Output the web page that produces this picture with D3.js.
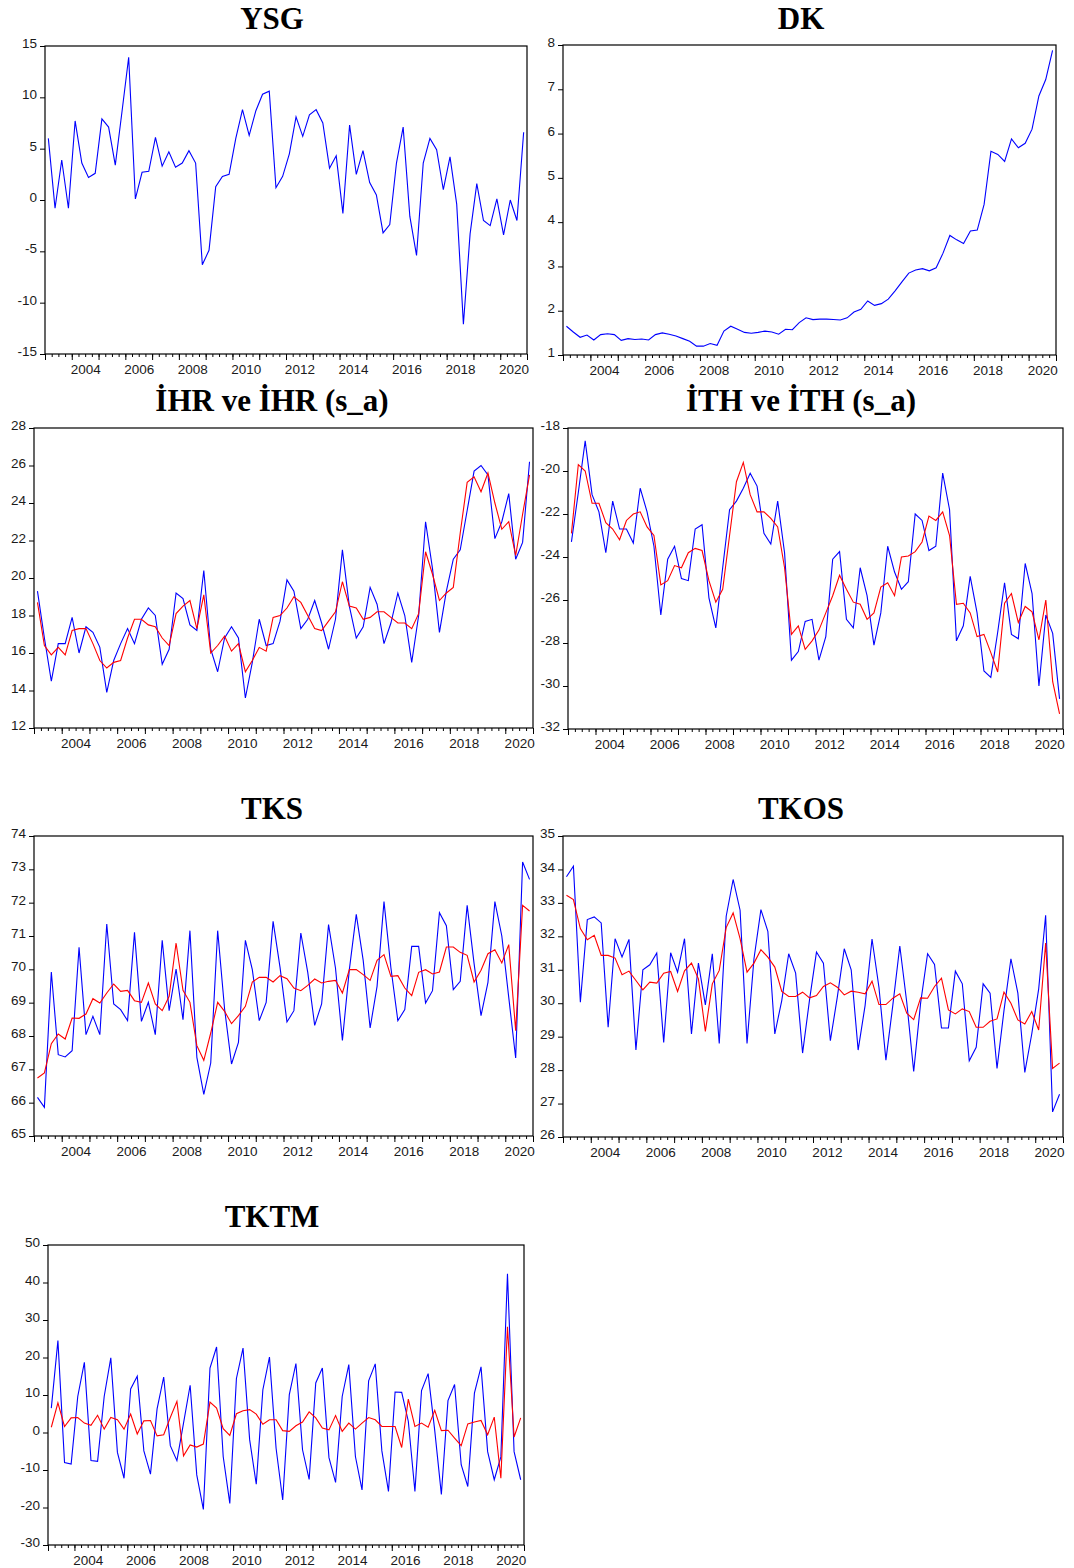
<!DOCTYPE html>
<html><head><meta charset="utf-8">
<script src="https://cdn.jsdelivr.net/npm/d3@7"></script>
<style>
html,body{margin:0;padding:0;background:#fff;}
svg{display:block;}
.tick text{font-family:"Liberation Sans",Arial,sans-serif;font-size:13.5px;fill:#1a1a1a;}
.title{font-family:"Liberation Serif","Times New Roman",serif;font-weight:bold;font-size:31px;fill:#000;}
</style></head>
<body>
<svg id="c" width="1074" height="1568"></svg>
<script>
// ---- data: quarterly 2003Q1 .. 2020Q4 (72 observations) ----
const yearLabels = ["2004","2006","2008","2010","2012","2014","2016","2018","2020"];
const yearLabelPos = [1,3,5,7,9,11,13,15,17]; // year index from 2003

const ysg = [6.0,-0.8,3.9,-0.8,7.7,3.6,2.2,2.6,7.9,7.1,3.4,8.6,13.9,0.1,2.7,2.8,6.1,3.3,4.7,3.2,
  3.6,4.8,3.6,-6.3,-4.9,1.3,2.3,2.5,6.0,8.8,6.3,8.7,10.3,10.6,1.2,2.3,4.5,8.1,6.2,8.3,
  8.8,7.5,3.1,4.3,-1.3,7.3,2.5,4.8,1.7,0.5,-3.2,-2.4,3.6,7.1,-1.6,-5.4,3.6,6.0,4.9,1.0,
  4.2,-0.4,-12.1,-3.3,1.6,-2.0,-2.5,0.1,-3.4,0.0,-2.0,6.6];
const dk = [1.65,1.52,1.40,1.45,1.34,1.46,1.48,1.46,1.33,1.37,1.35,1.36,1.34,1.46,1.50,1.47,1.43,1.37,1.31,1.20,
  1.20,1.26,1.22,1.54,1.65,1.58,1.51,1.49,1.51,1.54,1.52,1.47,1.58,1.57,1.73,1.84,1.80,1.81,1.81,1.80,
  1.79,1.84,1.97,2.03,2.22,2.12,2.16,2.26,2.45,2.65,2.85,2.92,2.95,2.90,2.97,3.30,3.70,3.60,3.52,3.80,
  3.82,4.40,5.60,5.53,5.37,5.88,5.68,5.78,6.10,6.85,7.22,7.88];
const ihr = [19.3,16.8,14.5,16.5,16.5,17.9,16.0,17.4,17.1,16.3,13.9,15.6,16.5,17.3,16.5,17.8,18.4,18.0,15.4,16.2,
  19.2,18.9,17.5,17.2,20.4,16.2,15.0,16.8,17.4,16.8,13.6,15.5,17.8,16.4,16.5,17.7,19.9,19.3,17.3,17.8,
  18.8,17.6,16.2,17.8,21.5,18.5,16.8,17.4,19.5,18.6,16.5,17.6,19.2,18.0,15.5,18.0,23.0,20.5,17.1,19.3,
  21.0,21.5,23.6,25.7,26.0,25.5,22.1,23.0,24.5,21.0,21.9,26.2];
const ihrSa = [18.7,16.4,15.9,16.3,15.9,17.2,17.3,17.3,16.5,15.6,15.2,15.5,15.6,16.8,17.8,17.8,17.5,17.4,16.8,16.4,
  18.1,18.5,18.8,17.3,19.1,16.0,16.4,16.9,16.1,16.5,15.0,15.6,16.3,16.1,17.9,18.0,18.4,19.0,18.7,18.0,
  17.3,17.2,17.7,18.2,19.8,18.5,18.4,17.8,17.9,18.2,18.2,17.9,17.6,17.6,17.3,18.1,21.4,20.2,18.8,19.2,
  19.5,22.4,25.1,25.4,24.6,25.6,24.0,22.6,23.0,21.2,23.4,25.5];
const ith = [-23.3,-21.0,-18.6,-21.1,-21.9,-23.8,-21.4,-22.7,-22.7,-23.35,-20.8,-21.9,-23.5,-26.7,-24.1,-23.5,-25.0,-25.1,-22.7,-22.5,
  -25.9,-27.3,-24.5,-21.8,-21.4,-20.8,-20.1,-20.7,-22.9,-23.4,-21.4,-23.8,-28.8,-28.4,-27.0,-26.9,-28.8,-27.7,-24.1,-23.75,
  -26.9,-27.3,-24.5,-25.8,-28.1,-26.6,-23.5,-24.7,-25.5,-25.15,-22.0,-22.3,-23.7,-23.5,-20.1,-21.8,-27.9,-27.2,-24.9,-26.6,
  -29.3,-29.6,-27.5,-25.2,-27.6,-27.8,-24.3,-25.7,-30.0,-26.7,-27.55,-30.6];
const ithSa = [-22.9,-19.7,-20.0,-21.5,-21.5,-22.4,-22.7,-23.2,-22.3,-22.0,-21.9,-22.6,-23.0,-25.3,-25.1,-24.4,-24.5,-23.8,-23.6,-23.7,
  -25.1,-26.1,-25.5,-23.0,-20.5,-19.6,-21.1,-21.9,-21.9,-22.2,-22.6,-24.5,-27.6,-27.2,-28.3,-27.9,-27.4,-26.6,-25.8,-24.85,
  -25.5,-26.1,-26.2,-26.9,-26.6,-25.4,-25.2,-25.8,-24.0,-23.95,-23.75,-23.3,-22.1,-22.3,-21.9,-23.0,-26.2,-26.15,-26.6,-27.7,
  -27.6,-28.45,-29.35,-26.15,-25.7,-27.05,-26.3,-26.55,-27.85,-26.0,-29.8,-31.3];
const tks = [66.16,65.86,69.92,67.44,67.37,67.56,70.66,68.04,68.59,68.04,71.36,68.96,68.79,68.46,71.11,68.44,69.01,68.04,70.87,68.76,
  70.01,68.49,71.16,67.36,66.25,67.19,71.16,68.81,67.16,67.81,70.87,69.99,68.46,69.01,71.44,70.06,68.42,68.76,71.09,69.91,
  68.32,68.96,71.34,70.04,67.87,69.99,71.65,70.27,68.24,69.49,72.03,70.04,68.46,68.79,70.69,70.69,68.99,69.36,71.70,71.31,
  69.39,69.64,71.92,70.17,68.61,69.61,72.03,71.00,69.16,67.34,73.22,72.70];
const tksSa = [66.74,66.89,67.77,68.06,67.91,68.54,68.53,68.66,69.12,68.99,69.29,69.56,69.34,69.37,69.06,69.01,69.59,68.96,68.76,69.19,
  70.79,69.37,69.01,67.71,67.27,68.09,69.01,68.74,68.37,68.61,68.89,69.62,69.76,69.76,69.62,69.81,69.72,69.44,69.36,69.52,
  69.71,69.59,69.64,69.67,69.29,69.99,69.99,69.84,69.67,70.27,70.44,69.79,69.81,69.44,69.21,69.91,69.99,69.86,69.92,70.67,
  70.67,70.51,70.42,69.62,69.97,70.47,70.59,70.19,70.74,68.16,71.92,71.75];
const tkos = [33.78,34.10,30.03,32.50,32.58,32.40,29.28,31.93,31.38,31.91,28.60,31.00,31.15,31.50,28.83,31.51,30.93,31.93,29.08,31.20,
  29.95,31.48,28.80,32.60,33.70,32.78,28.80,31.33,32.80,32.15,29.08,30.08,31.48,30.90,28.51,30.10,31.53,31.20,28.88,30.18,
  31.63,31.00,28.60,29.93,31.92,30.47,28.30,29.95,31.71,30.03,27.96,30.01,31.48,31.16,29.26,29.26,30.96,30.58,28.28,28.68,
  30.58,30.30,28.05,29.78,31.33,30.30,27.93,29.08,30.43,32.63,26.75,27.28];
const tkosSa = [33.23,33.10,32.23,31.90,32.03,31.43,31.43,31.35,30.85,30.96,30.68,30.40,30.63,30.60,30.90,30.95,30.35,30.97,31.20,30.73,
  29.16,30.58,30.98,32.26,32.70,31.93,30.93,31.20,31.60,31.38,31.08,30.35,30.20,30.20,30.33,30.16,30.23,30.50,30.61,30.48,
  30.25,30.36,30.33,30.28,30.66,29.96,29.96,30.15,30.28,29.70,29.51,30.16,30.15,30.50,30.75,29.80,29.68,29.83,29.75,29.28,
  29.28,29.46,29.53,30.33,30.00,29.50,29.38,29.75,29.20,31.80,28.05,28.21];
const tktm = [6.5,24.5,-8.0,-8.4,9.6,18.7,-7.5,-7.7,9.6,19.9,-5.3,-12.2,11.6,15.0,-4.9,-11.1,6.3,14.8,-3.5,-7.5,
  2.5,12.6,-11.3,-20.5,17.2,22.8,-6.4,-18.9,14.4,22.5,-1.9,-13.8,11.4,20.1,-4.2,-18.0,10.1,18.4,-4.6,-12.5,
  13.2,17.2,-6.7,-13.3,9.6,18.1,-6.4,-15.3,13.8,18.3,-4.9,-15.7,10.8,10.7,3.0,-15.7,11.2,15.7,0.5,-16.5,
  8.5,12.8,-8.6,-14.4,10.5,17.5,-5.1,-12.6,-6.5,42.3,-5.1,-12.6];
const tktmSa = [1.4,7.9,1.6,3.9,4.0,2.5,1.9,4.6,0.9,4.0,3.4,0.9,4.9,-0.4,3.1,3.2,-0.9,-0.6,4.0,8.3,
  -6.2,-3.3,-3.9,-3.1,8.1,6.5,1.0,-0.8,5.0,5.8,6.1,4.9,2.2,3.4,3.4,0.5,0.3,1.8,2.8,5.5,
  3.9,1.2,0.7,4.5,0.3,2.5,0.9,2.5,4.0,3.4,1.6,1.6,1.6,-4.0,8.9,1.6,2.5,1.4,5.9,0.5,
  0.6,-1.5,-3.5,2.3,2.8,3.2,-0.6,4.1,-12.2,28.2,-1.2,3.9];

const ysgTicks = [-15,-10,-5,0,5,10,15];
const dkTicks = [1,2,3,4,5,6,7,8];
const ihrTicks = [12,14,16,18,20,22,24,26,28];
const ithTicks = [-32,-30,-28,-26,-24,-22,-20,-18];
const tksTicks = [65,66,67,68,69,70,71,72,73,74];
const tkosTicks = [26,27,28,29,30,31,32,33,34,35];
const tktmTicks = [-30,-20,-10,0,10,20,30,40,50];

const NQ = 72;
const BLUE = "#0000ff", RED = "#ff0000";

// ---- layout ----
const panels = [
  {title:"YSG", tx:272, ty:29, L:45, R:527, T:46, B:354, ticks:ysgTicks, series:[[ysg,BLUE]]},
  {title:"DK", tx:801, ty:29, L:563, R:1056, T:45, B:355, ticks:dkTicks, series:[[dk,BLUE]]},
  {title:"İHR ve İHR (s_a)", tx:272, ty:411, L:34, R:533, T:428, B:728, ticks:ihrTicks, series:[[ihr,BLUE],[ihrSa,RED]]},
  {title:"İTH ve İTH (s_a)", tx:801, ty:411, L:568, R:1063, T:428, B:729, ticks:ithTicks, series:[[ith,BLUE],[ithSa,RED]]},
  {title:"TKS", tx:272, ty:819, L:34, R:533, T:836, B:1136, ticks:tksTicks, series:[[tks,BLUE],[tksSa,RED]]},
  {title:"TKOS", tx:801, ty:819, L:563, R:1063, T:836, B:1137, ticks:tkosTicks, series:[[tkos,BLUE],[tkosSa,RED]]},
  {title:"TKTM", tx:272, ty:1227, L:48, R:524, T:1245, B:1545, ticks:tktmTicks, series:[[tktm,BLUE],[tktmSa,RED]]}
];

const svg = d3.select("#c");

panels.forEach(p => {
  const g = svg.append("g");
  const x = d3.scaleLinear().domain([0, NQ]).range([p.L, p.R]);
  const y = d3.scaleLinear().domain(d3.extent(p.ticks)).range([p.B, p.T]);

  g.append("text").attr("class","title").attr("x",p.tx).attr("y",p.ty)
    .attr("text-anchor","middle").text(p.title);

  // series
  const line = d3.line().x((d,i)=>x(i+0.5)).y(d=>y(d));
  p.series.forEach(([data,color]) => {
    g.append("path").datum(data).attr("d",line)
      .attr("fill","none").attr("stroke",color).attr("stroke-width",1.1)
      .attr("stroke-linejoin","miter");
  });

  // frame
  g.append("rect").attr("x",p.L).attr("y",p.T).attr("width",p.R-p.L).attr("height",p.B-p.T)
    .attr("fill","none").attr("stroke","#000").attr("stroke-width",1.2);

  // y axis
  const ya = g.append("g").attr("transform",`translate(${p.L},0)`)
    .call(d3.axisLeft(y).tickValues(p.ticks).tickSize(5).tickPadding(3).tickFormat(d=>String(d)));
  ya.select(".domain").remove();
  ya.selectAll(".tick line").attr("stroke","#000");
  ya.selectAll(".tick text").attr("dy","0.12em");

  // x axis: quarter ticks, year ticks, labels
  const xa1 = g.append("g").attr("transform",`translate(0,${p.B})`)
    .call(d3.axisBottom(x).tickValues(d3.range(0,NQ+1)).tickSize(3).tickFormat(""));
  xa1.select(".domain").remove();
  xa1.selectAll(".tick line").attr("stroke","#000");
  const xa2 = g.append("g").attr("transform",`translate(0,${p.B})`)
    .call(d3.axisBottom(x).tickValues(d3.range(0,NQ+1,4)).tickSize(6).tickFormat(""));
  xa2.select(".domain").remove();
  xa2.selectAll(".tick line").attr("stroke","#000");
  const xa3 = g.append("g").attr("transform",`translate(0,${p.B})`)
    .call(d3.axisBottom(x).tickValues(yearLabelPos.map(k=>k*4+2)).tickSize(0).tickPadding(10)
      .tickFormat((d,i)=>yearLabels[i]));
  xa3.select(".domain").remove();
});
</script>
</body></html>
